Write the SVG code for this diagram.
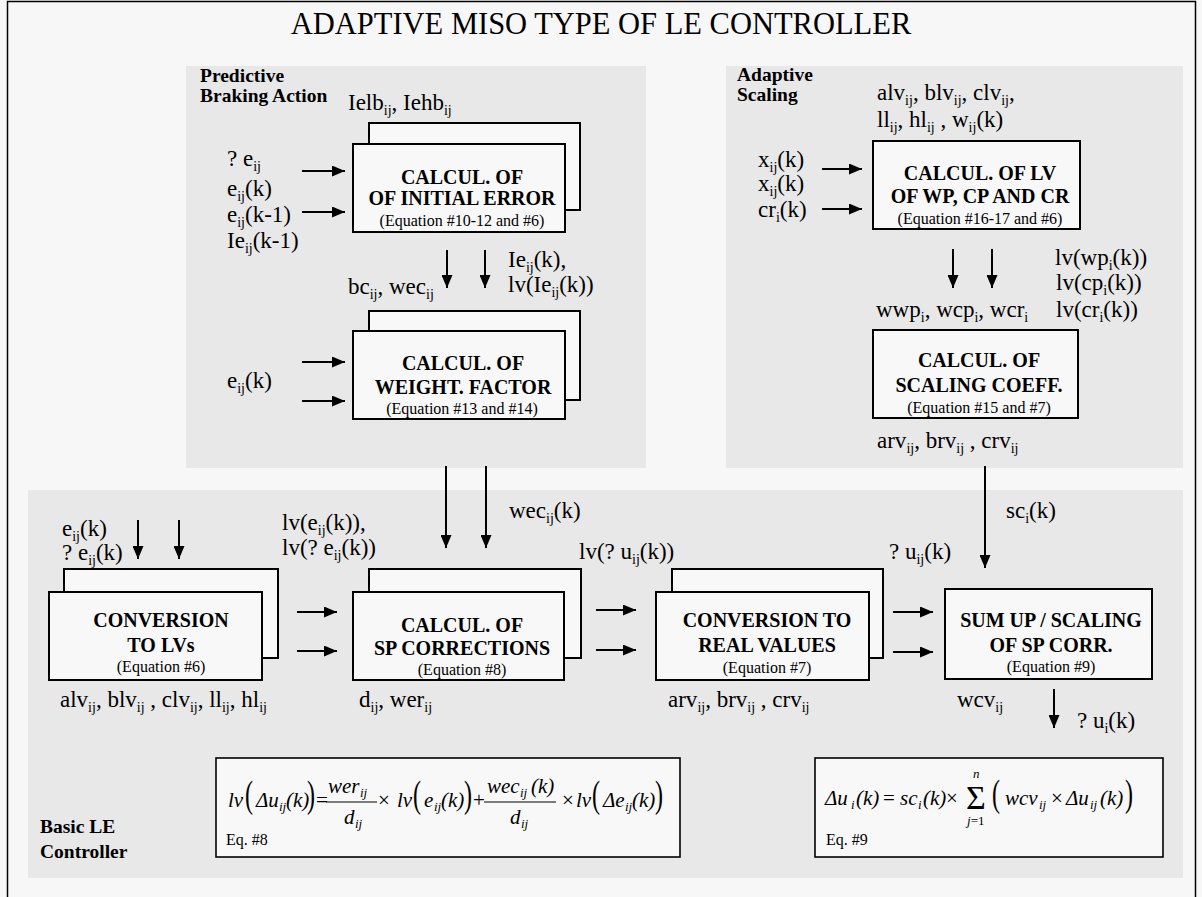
<svg xmlns="http://www.w3.org/2000/svg" width="1202" height="897" viewBox="0 0 1202 897">
<defs>
<marker id="ah" markerUnits="userSpaceOnUse" markerWidth="13" markerHeight="11" refX="13" refY="5.5" orient="auto">
<path d="M0,0 L13,5.5 L0,11 z" fill="#000"/>
</marker>
<style>
text{font-family:"Liberation Serif","Times New Roman",serif;fill:#000}
.ttl{font-size:30.5px;text-anchor:middle}
.lbl{font-size:23px}
.s{font-size:14px;baseline-shift:-5px}
.sec{font-size:19.5px;font-weight:bold}
.bt{font-size:20px;font-weight:bold;text-anchor:middle}
.bn{font-size:16px;text-anchor:middle}
.panel{fill:#e8e8e8}
.box{fill:#f8f8f8;stroke:#000;stroke-width:2}
.eqbox{fill:#f8f8f8;stroke:#000;stroke-width:1.6}
.eq{font-size:21px;font-style:italic}
.eqr{font-size:21px}
.sig{font-size:34px}
.se{font-size:13px;font-style:italic}
.bp{font-size:30px}
.note{font-size:16px}
.conn line{stroke:#000;stroke-width:2;marker-end:url(#ah)}
.frac{stroke:#000;stroke-width:1}
</style>
</defs>
<rect x="0" y="0" width="1202" height="897" fill="#f7f7f7"/>
<rect x="7.5" y="1.5" width="1188" height="900" fill="none" stroke="#000" stroke-width="1.5"/>
<text class="ttl" x="601" y="34">ADAPTIVE MISO TYPE OF LE CONTROLLER</text>

<g id="panel-predictive">
<rect class="panel" x="186" y="66" width="460" height="402"/>
<text class="sec" x="200" y="82">Predictive</text>
<text class="sec" x="200" y="102">Braking Action</text>
</g>
<g id="panel-adaptive">
<rect class="panel" x="726" y="66" width="457" height="402"/>
<text class="sec" x="737" y="81">Adaptive</text>
<text class="sec" x="737" y="101">Scaling</text>
</g>
<g id="panel-basic">
<rect class="panel" x="28" y="490" width="1155" height="388"/>
<text class="sec" x="40" y="833">Basic LE</text>
<text class="sec" x="40" y="858">Controller</text>
</g>

<g id="node-initial-error">
<rect class="box" x="369" y="123" width="211" height="87"/>
<rect class="box" x="353" y="144" width="212" height="88"/>
<text class="bt" x="462" y="184">CALCUL. OF</text>
<text class="bt" x="462" y="205">OF INITIAL ERROR</text>
<text class="bn" x="462" y="226">(Equation #10-12 and #6)</text>
</g>
<g id="node-weight-factor">
<rect class="box" x="369" y="311" width="211" height="89"/>
<rect class="box" x="353" y="331" width="212" height="88"/>
<text class="bt" x="463" y="370">CALCUL. OF</text>
<text class="bt" x="463" y="394">WEIGHT. FACTOR</text>
<text class="bn" x="462" y="414">(Equation #13 and #14)</text>
</g>
<g id="node-lv-wp">
<rect class="box" x="873" y="141" width="207" height="88"/>
<text class="bt" x="980" y="180">CALCUL. OF LV</text>
<text class="bt" x="980" y="203">OF WP, CP AND CR</text>
<text class="bn" x="980" y="224">(Equation #16-17 and #6)</text>
</g>
<g id="node-scaling-coeff">
<rect class="box" x="873" y="330" width="205" height="88"/>
<text class="bt" x="979" y="367">CALCUL. OF</text>
<text class="bt" x="979" y="392">SCALING COEFF.</text>
<text class="bn" x="979" y="413">(Equation #15 and #7)</text>
</g>
<g id="node-conversion-lv">
<rect class="box" x="64" y="569" width="214" height="89"/>
<rect class="box" x="49" y="592" width="213" height="88"/>
<text class="bt" x="161" y="627">CONVERSION</text>
<text class="bt" x="161" y="652">TO LVs</text>
<text class="bn" x="161" y="672">(Equation #6)</text>
</g>
<g id="node-sp-corrections">
<rect class="box" x="369" y="569" width="212" height="89"/>
<rect class="box" x="353" y="592" width="211" height="88"/>
<text class="bt" x="462" y="632">CALCUL. OF</text>
<text class="bt" x="462" y="655">SP CORRECTIONS</text>
<text class="bn" x="462" y="675">(Equation #8)</text>
</g>
<g id="node-real-values">
<rect class="box" x="672" y="569" width="211" height="89"/>
<rect class="box" x="656" y="592" width="213" height="88"/>
<text class="bt" x="767" y="627">CONVERSION TO</text>
<text class="bt" x="767" y="652">REAL VALUES</text>
<text class="bn" x="767" y="673">(Equation #7)</text>
</g>
<g id="node-sum-up">
<rect class="box" x="945" y="589" width="207" height="90"/>
<text class="bt" x="1051" y="627">SUM UP / SCALING</text>
<text class="bt" x="1051" y="652">OF SP CORR.</text>
<text class="bn" x="1051" y="672">(Equation #9)</text>
</g>

<g id="labels">
<text class="lbl" x="348" y="110">Ielb<tspan class="s">ij</tspan>, Iehb<tspan class="s">ij</tspan></text>
<text class="lbl" x="227" y="166">? e<tspan class="s">ij</tspan></text>
<text class="lbl" x="227" y="196">e<tspan class="s">ij</tspan>(k)</text>
<text class="lbl" x="227" y="222">e<tspan class="s">ij</tspan>(k-1)</text>
<text class="lbl" x="227" y="248">Ie<tspan class="s">ij</tspan>(k-1)</text>
<text class="lbl" x="508" y="267">Ie<tspan class="s">ij</tspan>(k),</text>
<text class="lbl" x="508" y="292">lv(Ie<tspan class="s">ij</tspan>(k))</text>
<text class="lbl" x="348" y="294">bc<tspan class="s">ij</tspan>, wec<tspan class="s">ij</tspan></text>
<text class="lbl" x="227" y="388">e<tspan class="s">ij</tspan>(k)</text>

<text class="lbl" x="877" y="100">alv<tspan class="s">ij</tspan>, blv<tspan class="s">ij</tspan>, clv<tspan class="s">ij</tspan>,</text>
<text class="lbl" x="877" y="127">ll<tspan class="s">ij</tspan>, hl<tspan class="s">ij</tspan> , w<tspan class="s">ij</tspan>(k)</text>
<text class="lbl" x="758" y="167">x<tspan class="s">ij</tspan>(k)</text>
<text class="lbl" x="758" y="191">x<tspan class="s">ij</tspan>(k)</text>
<text class="lbl" x="758" y="217">cr<tspan class="s">i</tspan>(k)</text>
<text class="lbl" x="1055" y="265">lv(wp<tspan class="s">i</tspan>(k))</text>
<text class="lbl" x="1056" y="290">lv(cp<tspan class="s">i</tspan>(k))</text>
<text class="lbl" x="1056" y="317">lv(cr<tspan class="s">i</tspan>(k))</text>
<text class="lbl" x="876" y="317">wwp<tspan class="s">i</tspan>, wcp<tspan class="s">i</tspan>, wcr<tspan class="s">i</tspan></text>
<text class="lbl" x="877" y="448">arv<tspan class="s">ij</tspan>, brv<tspan class="s">ij</tspan> , crv<tspan class="s">ij</tspan></text>

<text class="lbl" x="62" y="536">e<tspan class="s">ij</tspan>(k)</text>
<text class="lbl" x="62" y="560">? e<tspan class="s">ij</tspan>(k)</text>
<text class="lbl" x="282" y="530">lv(e<tspan class="s">ij</tspan>(k)),</text>
<text class="lbl" x="282" y="555">lv(? e<tspan class="s">ij</tspan>(k))</text>
<text class="lbl" x="509" y="518">wec<tspan class="s">ij</tspan>(k)</text>
<text class="lbl" x="579" y="559">lv(? u<tspan class="s">ij</tspan>(k))</text>
<text class="lbl" x="889" y="559">? u<tspan class="s">ij</tspan>(k)</text>
<text class="lbl" x="1006" y="518">sc<tspan class="s">i</tspan>(k)</text>
<text class="lbl" x="60" y="707">alv<tspan class="s">ij</tspan>, blv<tspan class="s">ij</tspan> , clv<tspan class="s">ij</tspan>, ll<tspan class="s">ij</tspan>, hl<tspan class="s">ij</tspan></text>
<text class="lbl" x="359" y="707">d<tspan class="s">ij</tspan>, wer<tspan class="s">ij</tspan></text>
<text class="lbl" x="668" y="707">arv<tspan class="s">ij</tspan>, brv<tspan class="s">ij</tspan> , crv<tspan class="s">ij</tspan></text>
<text class="lbl" x="957" y="707">wcv<tspan class="s">ij</tspan></text>
<text class="lbl" x="1077" y="728">? u<tspan class="s">i</tspan>(k)</text>
</g>

<g id="eq8">
<rect class="eqbox" x="216" y="758" width="464" height="99"/>
<text class="eq" x="228" y="807">lv</text>
<text class="bp" transform="translate(245,807) scale(0.8,1.25)">(</text>
<text class="eq" x="256" y="807">Δu</text>
<text class="se" x="279" y="811">ij</text>
<text class="eq" x="286" y="807">(k)</text>
<text class="bp" transform="translate(307,807) scale(0.8,1.25)">)</text>
<text class="eqr" x="316" y="807">=</text>
<text class="eq" x="328" y="793">wer</text>
<text class="se" x="360" y="797">ij</text>
<line class="frac" x1="326" y1="802" x2="377" y2="802"/>
<text class="eq" x="344" y="824">d</text>
<text class="se" x="355" y="828">ij</text>
<text class="eqr" x="378" y="807">×</text>
<text class="eq" x="397" y="807">lv</text>
<text class="bp" transform="translate(413,807) scale(0.8,1.25)">(</text>
<text class="eq" x="424" y="807">e</text>
<text class="se" x="434" y="811">ij</text>
<text class="eq" x="441" y="807">(k)</text>
<text class="bp" transform="translate(464,807) scale(0.8,1.25)">)</text>
<text class="eqr" x="473" y="807">+</text>
<text class="eq" x="487" y="793">wec</text>
<text class="se" x="520" y="797">ij</text>
<text class="eq" x="531" y="793">(k)</text>
<line class="frac" x1="484" y1="802" x2="556" y2="802"/>
<text class="eq" x="510" y="824">d</text>
<text class="se" x="521" y="828">ij</text>
<text class="eqr" x="562" y="807">×</text>
<text class="eq" x="576" y="807">lv</text>
<text class="bp" transform="translate(592,807) scale(0.8,1.25)">(</text>
<text class="eq" x="603" y="807">Δe</text>
<text class="se" x="625" y="811">ij</text>
<text class="eq" x="632" y="807">(k)</text>
<text class="bp" transform="translate(655,807) scale(0.8,1.25)">)</text>
<text class="note" x="226" y="845">Eq. #8</text>
</g>

<g id="eq9">
<rect class="eqbox" x="815" y="758" width="348" height="99"/>
<text class="eq" x="825" y="805">Δu</text>
<text class="se" x="851" y="809">i</text>
<text class="eq" x="856" y="805">(k)</text>
<text class="eqr" x="883" y="805">=</text>
<text class="eq" x="900" y="805">sc</text>
<text class="se" x="918" y="809">i</text>
<text class="eq" x="923" y="805">(k)</text>
<text class="eqr" x="946" y="805">×</text>
<text class="sig" x="966" y="809">Σ</text>
<text class="se" x="973" y="778">n</text>
<text class="se" x="967" y="825">j<tspan font-style="normal">=1</tspan></text>
<text class="bp" transform="translate(992,806) scale(0.8,1.25)">(</text>
<text class="eq" x="1005" y="805">wcv</text>
<text class="se" x="1039" y="809">ij</text>
<text class="eqr" x="1051" y="805">×</text>
<text class="eq" x="1066" y="805">Δu</text>
<text class="se" x="1090" y="809">ij</text>
<text class="eq" x="1100" y="805">(k)</text>
<text class="bp" transform="translate(1125,806) scale(0.8,1.25)">)</text>
<text class="note" x="826" y="845">Eq. #9</text>
</g>

<g id="connectors" class="conn">
<line x1="302" y1="171" x2="345" y2="171"/>
<line x1="302" y1="212" x2="345" y2="212"/>
<line x1="447" y1="250" x2="447" y2="288"/>
<line x1="485" y1="250" x2="485" y2="288"/>
<line x1="302" y1="362" x2="345" y2="362"/>
<line x1="302" y1="401" x2="345" y2="401"/>
<line x1="822" y1="169" x2="862" y2="169"/>
<line x1="822" y1="209" x2="862" y2="209"/>
<line x1="953" y1="249" x2="953" y2="288"/>
<line x1="992" y1="249" x2="992" y2="288"/>
<line x1="446" y1="466" x2="446" y2="548"/>
<line x1="486" y1="466" x2="486" y2="548"/>
<line x1="985" y1="466" x2="985" y2="568"/>
<line x1="138" y1="520" x2="138" y2="559"/>
<line x1="179" y1="520" x2="179" y2="559"/>
<line x1="297" y1="612" x2="337" y2="612"/>
<line x1="297" y1="651" x2="337" y2="651"/>
<line x1="596" y1="610" x2="636" y2="610"/>
<line x1="596" y1="650" x2="636" y2="650"/>
<line x1="893" y1="612" x2="933" y2="612"/>
<line x1="893" y1="652" x2="933" y2="652"/>
<line x1="1054" y1="689" x2="1054" y2="728"/>
</g>
</svg>
